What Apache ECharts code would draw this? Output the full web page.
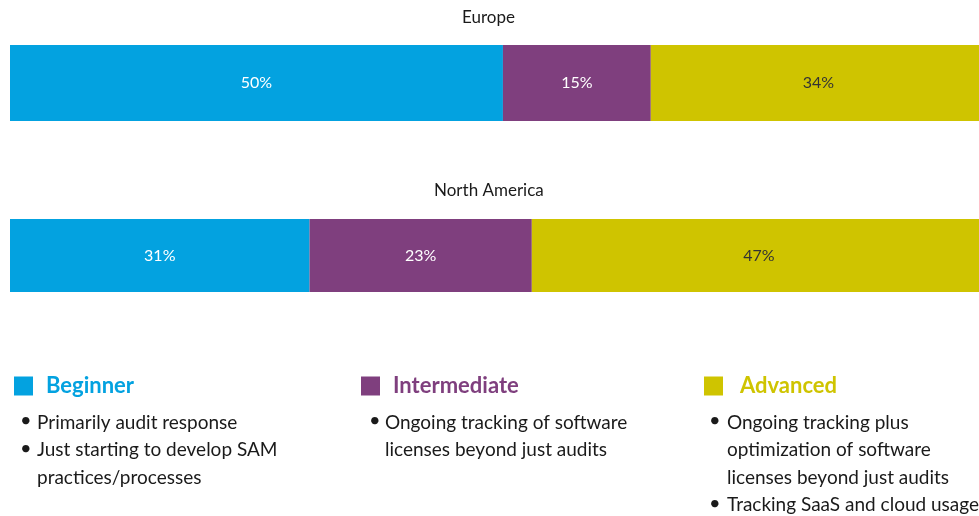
<!DOCTYPE html>
<html>
<head>
<meta charset="utf-8">
<script src="https://cdn.jsdelivr.net/npm/echarts@6/dist/echarts.min.js"></script>
<style>
  html, body { margin: 0; padding: 0; background: #fff; overflow: hidden; width: 979px; height: 516px; }
  #chart { width: 990px; height: 516px; }
</style>
</head>
<body>
<div id="chart"></div>
<script>
var regions = ['Europe', 'North America']
var levels = ['Beginner', 'Intermediate', 'Advanced']
var beginner = [50, 31]
var intermediate = [15, 23]
var advanced = [34, 47]
var colors = ['#03a2e0', '#7f3f7e', '#cfc400']
var notes = [
  ['Primarily audit response', 'Just starting to develop SAM\npractices/processes'],
  ['Ongoing tracking of software\nlicenses beyond just audits'],
  ['Ongoing tracking plus\noptimization of software\nlicenses beyond just audits', 'Tracking SaaS and cloud usage']
]

var FONT = 'Lato'
var raw = [beginner, intermediate, advanced]
// each bar fills the full width (rows sum to 99 / 101)
var totals = regions.map(function (r, i) {
  return beginner[i] + intermediate[i] + advanced[i]
})

var chart = echarts.init(document.getElementById('chart'))

// one grid per region, the chart is wider than the window so the right end is cut
var grids = [
  { left: 10, width: 976, top: 45, height: 76 },
  { left: 10, width: 976, top: 219, height: 73 }
]

var series = []
regions.forEach(function (region, i) {
  levels.forEach(function (name, k) {
    series.push({
      name: name,
      type: 'bar',
      stack: 'r' + i,
      xAxisIndex: i,
      yAxisIndex: i,
      barWidth: '100%',
      itemStyle: { color: colors[k] },
      label: {
        show: true,
        position: 'inside',
        fontFamily: FONT,
        fontSize: 16,
        color: k === 2 ? '#333' : '#fff',
        formatter: raw[k][i] + '%'
      },
      data: [raw[k][i] / totals[i] * 100]
    })
  })
})

var legendLeft = [14, 361, 704]
var legends = levels.map(function (name, k) {
  return {
    left: legendLeft[k],
    top: 375,
    padding: 0,
    icon: 'rect',
    itemWidth: 19,
    itemHeight: 19,
    selectedMode: false,
    data: [{ name: name }],
    textStyle: {
      color: colors[k],
      fontFamily: FONT,
      fontSize: 22,
      fontWeight: 'bold',
      padding: [0, 0, 0, k === 2 ? 12 : 8]
    }
  }
})

var bulletX = [24, 373, 713]
var textX = [37, 385, 727]
var graphics = []
notes.forEach(function (list, k) {
  var y = 423
  list.forEach(function (txt) {
    graphics.push({
      type: 'text', left: bulletX[k] - 4, top: y - 12,
      style: { text: '•', fontFamily: FONT, fontSize: 20, fill: '#1a1a1a' }
    })
    graphics.push({
      type: 'text', left: textX[k], top: y - 14,
      style: { text: txt, fontFamily: FONT, fontSize: 19, lineHeight: 27.5, fill: '#1a1a1a' }
    })
    y += 27.5 * txt.split('\n').length
  })
})

var titleStyle = { fontFamily: FONT, fontSize: 17, fontWeight: 'normal', color: '#1a1a1a' }

chart.setOption({
  animation: false,
  textStyle: { fontFamily: FONT },
  title: [
    { text: regions[0], left: 462, top: 9, padding: 0, textStyle: titleStyle },
    { text: regions[1], left: 434, top: 182, padding: 0, textStyle: titleStyle }
  ],
  legend: legends,
  grid: grids,
  xAxis: grids.map(function (g, i) {
    return { type: 'value', gridIndex: i, min: 0, max: 100, show: false }
  }),
  yAxis: grids.map(function (g, i) {
    return { type: 'category', gridIndex: i, data: [regions[i]], show: false }
  }),
  series: series,
  graphic: graphics
})
</script>
</body>
</html>
